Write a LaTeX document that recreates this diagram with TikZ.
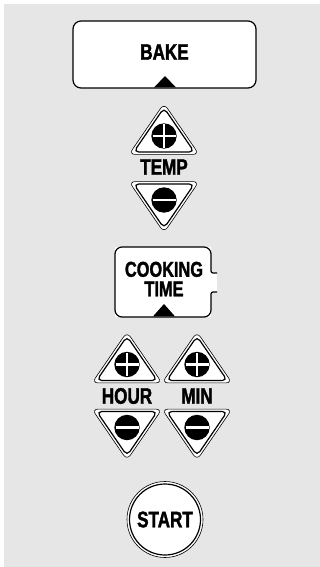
\documentclass[tikz,border=0pt]{standalone}
\usepackage{fontspec}
\newfontfamily\lbl[FakeStretch=0.76,FakeBold=1.6]{Liberation Sans Bold}
\definecolor{panel}{RGB}{230,230,230}
\tikzset{
  pics/tri/.style={code={
    \begin{scope}[yscale=#1]
    \fill[white, rounded corners=6pt] (0,-32.6) -- (35,18.4) -- (-35,18.4) -- cycle;
    \draw[line width=0.6pt, rounded corners=6pt] (0,-32.6) -- (35,18.4) -- (-35,18.4) -- cycle;
    \draw[line width=1.2pt, rounded corners=5pt] (0,-28.2) -- (30.3,16.0) -- (-30.3,16.0) -- cycle;
    \fill (0,0) circle (12.7);
    \end{scope}
  }},
  pics/plusbtn/.style={code={
    \pic {tri=1};
    \draw[white, line width=2.2pt] (-11.5,0) -- (11.5,0) (0,-11.5) -- (0,11.5);
  }},
  pics/minusbtn/.style={code={
    \pic {tri=-1};
    \draw[white, line width=2.2pt] (-11.5,0) -- (11.5,0);
  }}
}
\begin{document}
\begin{tikzpicture}[x=1pt,y=-1pt,
  lab/.style={font=\lbl\fontsize{22.5}{18.5}\selectfont, align=center, inner sep=0pt},
  lab2/.style={font=\lbl\fontsize{21.5}{19.5}\selectfont, align=center, inner sep=0pt},
  boxline/.style={draw=black, line width=1.2pt, fill=white}
]
\useasboundingbox (0,0) rectangle (320,567);
\fill[white] (0,0) rectangle (320,567);
\fill[panel] (4,4) rectangle (320,567);

% BAKE
\draw[boxline, rounded corners=8pt] (73,21) rectangle (256,88);
\node[lab] (bake) at (164.5,52) {BAKE};
\fill (154,87.5) -- (176,87.5) -- (165,76) -- cycle;

% TEMP
\pic at (164,136) {plusbtn};
\node[lab] (temp) at (164,167) {TEMP};
\pic at (164,200) {minusbtn};

% COOKING TIME
\fill[white] (115,247) rectangle (211,317);
\fill[white] (209,273) rectangle (217,292);
\draw[line width=1.2pt] (217,273) [rounded corners=2pt] -- (211,273) [rounded corners=7pt] -- (211,247) -- (115,247) -- (115,317) -- (211,317) [rounded corners=2pt] -- (211,292) [sharp corners] -- (217,292);
\node[lab2] (cook) at (164,279) {COOKING\\TIME};
\fill (153,316.4) -- (175,316.4) -- (164,304) -- cycle;

% HOUR / MIN
\pic at (127,364.5) {plusbtn};
\pic at (127,427.5) {minusbtn};
\node[lab] (hour) at (127,396) {HOUR};
\pic at (197,364.5) {plusbtn};
\pic at (197,427.5) {minusbtn};
\node[lab] (min) at (197,396) {MIN};

% START
\draw[fill=white, line width=0.6pt] (165,519.5) circle (38);
\draw[line width=1.2pt] (165,519.5) circle (35.5);
\node[lab] (start) at (165,519.5) {START};
\end{tikzpicture}
\end{document}
